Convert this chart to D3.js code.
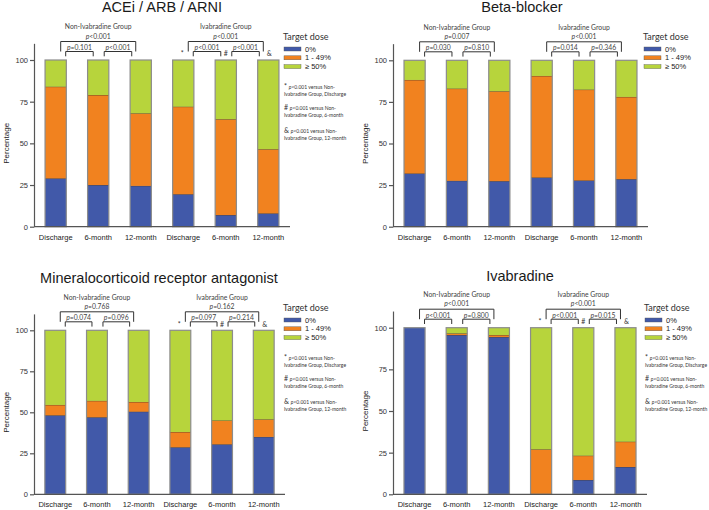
<!DOCTYPE html>
<html>
<head>
<meta charset="utf-8">
<script src="https://cdn.jsdelivr.net/npm/d3@7"></script>
<style>
body { margin: 0; background: #fff; }
svg { display: block; }
</style>
</head>
<body>
<div id="chart"></div>
<script>
// Set up an svg area
var svgWidth = 709;
var svgHeight = 510;

var svg = d3.select('#chart')
    .append('svg')
    .attr('width', svgWidth)
    .attr('height', svgHeight);

// Shared categories and legend
var categories = ['Discharge', '6-month', '12-month', 'Discharge', '6-month', '12-month'];
var groupNames = ['Non-Ivabradine Group', 'Ivabradine Group'];
var doseLevels = ['0%', '1 - 49%', '\u2265 50%'];
var doseColors = ['#4159a9', '#f1821f', '#b7d43c'];
var yTicks = [0, 25, 50, 75, 100];

// ACEi / ARB / ARNI (% of patients by target dose)
var acei_zero = [29, 25, 24.5, 19.5, 7, 8];
var acei_low = [55, 54, 43.5, 52.5, 57.5, 38.5];
var acei_high = [16, 21, 32, 28, 35.5, 53.5];
var acei_pNon = ['p<0.001', 'p=0.101', 'p<0.001'];
var acei_pIva = ['p<0.001', 'p<0.001', 'p<0.001'];

// Beta-blocker
var beta_zero = [32, 27.6, 27.4, 29.6, 27.8, 28.6];
var beta_low = [56.2, 55.4, 54, 61, 54.6, 49.4];
var beta_high = [11.8, 17, 18.6, 9.4, 17.6, 22];
var beta_pNon = ['p=0.007', 'p=0.030', 'p=0.810'];
var beta_pIva = ['p<0.001', 'p=0.014', 'p=0.346'];

// Mineralocorticoid receptor antagonist
var mra_zero = [48.2, 47, 50.4, 28.7, 30.5, 35];
var mra_low = [6.3, 10, 5.9, 9.3, 14.5, 10.7];
var mra_high = [45.5, 43, 43.7, 62, 55, 54.3];
var mra_pNon = ['p=0.768', 'p=0.074', 'p=0.096'];
var mra_pIva = ['p=0.162', 'p=0.097', 'p=0.214'];

// Ivabradine
var iva_zero = [100, 95.6, 94.4, 0, 8.6, 16.4];
var iva_low = [0, 1, 1.2, 27, 14.6, 15.2];
var iva_high = [0, 3.4, 4.4, 73, 76.8, 68.4];
var iva_pNon = ['p<0.001', 'p<0.001', 'p=0.800'];
var iva_pIva = ['p<0.001', 'p<0.001', 'p=0.015'];

// Footnote marks versus the Non-Ivabradine group
var footMarks = ['*', '#', '&'];
var footTimes = ['Discharge', '6-month', '12-month'];

var panels = [
    {title: 'ACEi / ARB / ARNI', series: [acei_zero, acei_low, acei_high], pNon: acei_pNon, pIva: acei_pIva, marks: true,
        left: 34, right: 290, bottom: 226.7, top100: 60, titleX: 162, titleY: 12, legendX: 283, legendY: 37},
    {title: 'Beta-blocker', series: [beta_zero, beta_low, beta_high], pNon: beta_pNon, pIva: beta_pIva, marks: false,
        left: 393, right: 648, bottom: 226.7, top100: 60.3, titleX: 522, titleY: 12, legendX: 643, legendY: 37},
    {title: 'Mineralocorticoid receptor antagonist', series: [mra_zero, mra_low, mra_high], pNon: mra_pNon, pIva: mra_pIva, marks: true,
        left: 34, right: 285, bottom: 494.3, top100: 330.3, titleX: 159, titleY: 282.5, legendX: 283, legendY: 308},
    {title: 'Ivabradine', series: [iva_zero, iva_low, iva_high], pNon: iva_pNon, pIva: iva_pIva, marks: true,
        left: 393, right: 647, bottom: 494.3, top100: 327.7, titleX: 520, titleY: 280.5, legendX: 644, legendY: 308}
];

var noteFont = 'Lato, "Open Sans", sans-serif';
var axisFont = '"Liberation Sans", Arial, sans-serif';

// Writes "p" in italics followed by the rest of the value
function pText(sel, value) {
    sel.append('tspan').style('font-style', 'italic').text(value.slice(0, 1));
    sel.append('tspan').text(value.slice(1));
}

function bracketPath(x1, x2, yTop, yLeg) {
    return `M${x1},${yLeg}V${yTop}H${x2}V${yLeg}`;
}

function drawPanel(cfg) {
    var g = svg.append('g');

    var yScale = d3.scaleLinear()
        .domain([0, 110])
        .range([cfg.bottom, cfg.bottom - 1.1 * (cfg.bottom - cfg.top100)]);

    var xScale = d3.scaleBand()
        .domain(d3.range(categories.length))
        .range([cfg.left, cfg.right])
        .paddingInner(0.5)
        .paddingOuter(0.26);

    var bw = xScale.bandwidth();
    var cx = (i) => xScale(i) + bw / 2;

    // Stack the three dose levels
    var rows = categories.map((c, i) => ({zero: cfg.series[0][i], low: cfg.series[1][i], high: cfg.series[2][i]}));
    var stacked = d3.stack().keys(['zero', 'low', 'high'])(rows);

    stacked.forEach((layer, li) => {
        g.append('g').selectAll('rect')
            .data(layer)
            .enter()
            .append('rect')
            .attr('x', (d, i) => xScale(i))
            .attr('y', (d) => yScale(d[1]))
            .attr('width', bw)
            .attr('height', (d) => yScale(d[0]) - yScale(d[1]))
            .attr('fill', doseColors[li]);

        // dark line on top of each segment
        if (li < 2) {
            g.append('g').selectAll('line')
                .data(layer.map((d, i) => ({d: d, i: i})).filter((o) => o.d[1] - o.d[0] > 0 && o.d[1] < 100))
                .enter()
                .append('line')
                .attr('x1', (o) => xScale(o.i))
                .attr('x2', (o) => xScale(o.i) + bw)
                .attr('y1', (o) => yScale(o.d[1]))
                .attr('y2', (o) => yScale(o.d[1]))
                .attr('stroke', '#4a3a2a')
                .attr('stroke-width', 0.8);
        }
    });

    // gray outline round each bar
    g.append('g').selectAll('rect')
        .data(categories)
        .enter()
        .append('rect')
        .attr('x', (d, i) => xScale(i))
        .attr('y', yScale(100))
        .attr('width', bw)
        .attr('height', yScale(0) - yScale(100))
        .attr('fill', 'none')
        .attr('stroke', '#8c8c8c')
        .attr('stroke-width', 1.2);

    // Axes
    var leftAxis = d3.axisLeft(yScale)
        .tickValues(yTicks)
        .tickSize(4)
        .tickSizeOuter(0);

    var yAxis = g.append('g')
        .attr('transform', `translate(${cfg.left}, 0)`)
        .call(leftAxis);
    yAxis.select('.domain').attr('stroke', '#555').attr('stroke-width', 1.2);
    yAxis.selectAll('.tick line').attr('stroke', '#555').attr('stroke-width', 1.2);
    yAxis.selectAll('.tick text')
        .attr('x', -6)
        .style('font-family', axisFont)
        .style('font-size', '7.5px')
        .attr('fill', '#333');

    g.append('line')
        .attr('x1', cfg.left)
        .attr('x2', cfg.right)
        .attr('y1', cfg.bottom)
        .attr('y2', cfg.bottom)
        .attr('stroke', '#555')
        .attr('stroke-width', 1.2);

    g.append('g').selectAll('text')
        .data(categories)
        .enter()
        .append('text')
        .attr('x', (d, i) => cx(i))
        .attr('y', cfg.bottom + 13)
        .attr('text-anchor', 'middle')
        .style('font-family', axisFont)
        .style('font-size', '7.5px')
        .attr('fill', '#222')
        .text((d) => d);

    g.append('text')
        .attr('transform', 'rotate(-90)')
        .attr('x', -(cfg.bottom + cfg.top100) / 2)
        .attr('y', cfg.left - 25)
        .attr('text-anchor', 'middle')
        .style('font-family', axisFont)
        .style('font-size', '8px')
        .attr('fill', '#222')
        .text('Percentage');

    // Title
    g.append('text')
        .attr('x', cfg.titleX)
        .attr('y', cfg.titleY)
        .attr('text-anchor', 'middle')
        .style('font-family', axisFont)
        .style('font-size', '14.5px')
        .attr('fill', '#1a1a1a')
        .text(cfg.title);

    // Group labels, p-values and brackets
    [cfg.pNon, cfg.pIva].forEach((pv, gi) => {
        var c1 = cx(gi * 3), c2 = cx(gi * 3 + 1), c3 = cx(gi * 3 + 2);
        var t = cfg.top100;

        g.append('text')
            .attr('x', c2)
            .attr('y', t - 33)
            .attr('dy', '0.35em')
            .attr('text-anchor', 'middle')
            .style('font-family', noteFont)
            .style('font-size', '6.8px')
            .attr('fill', '#444')
            .text(groupNames[gi]);

        g.append('text')
            .attr('x', (c1 + c3) / 2)
            .attr('y', t - 23.7)
            .attr('dy', '0.35em')
            .attr('text-anchor', 'middle')
            .style('font-family', noteFont)
            .style('font-size', '6.8px')
            .attr('fill', '#444')
            .call(pText, pv[0]);

        g.append('path')
            .attr('d', bracketPath(c1 + 5, c3 - 5, t - 18.5, t - 8.5))
            .attr('fill', 'none')
            .attr('stroke', '#333')
            .attr('stroke-width', 1);

        var smalls = [[c1 + 10, c2 - 5], [c2 + 6, c3 - 9]];
        smalls.forEach((s, si) => {
            g.append('path')
                .attr('d', bracketPath(s[0], s[1], t - 8.5, t - 3.7))
                .attr('fill', 'none')
                .attr('stroke', '#333')
                .attr('stroke-width', 1);

            g.append('text')
                .attr('x', (s[0] + s[1]) / 2)
                .attr('y', t - 12.5)
                .attr('dy', '0.35em')
                .attr('text-anchor', 'middle')
                .style('font-family', noteFont)
                .style('font-size', '6.8px')
                .attr('fill', '#444')
                .call(pText, pv[si + 1]);
        });

        // significance marks over the Ivabradine bars
        if (cfg.marks && gi === 1) {
            footMarks.forEach((m, mi) => {
                g.append('text')
                    .attr('x', cx(3 + mi) - 1 + mi)
                    .attr('y', t - 6)
                    .attr('dy', '0.35em')
                    .attr('text-anchor', 'middle')
                    .style('font-family', noteFont)
                    .style('font-size', '7px')
                    .attr('fill', '#333')
                    .text(m);
            });
        }
    });

    // Legend
    var legend = g.append('g')
        .attr('transform', `translate(${cfg.legendX}, ${cfg.legendY})`);

    legend.append('text')
        .attr('x', 0)
        .attr('y', 0)
        .attr('dy', '0.35em')
        .style('font-family', noteFont)
        .style('font-size', '9px')
        .attr('fill', '#333')
        .text('Target dose');

    var legendY = [12, 20.8, 29.6];
    doseLevels.forEach((lvl, li) => {
        legend.append('rect')
            .attr('x', 1)
            .attr('y', legendY[li] - 2)
            .attr('width', 17)
            .attr('height', 4)
            .attr('fill', doseColors[li])
            .attr('stroke', '#555')
            .attr('stroke-width', 0.4);

        legend.append('text')
            .attr('x', 22)
            .attr('y', legendY[li])
            .attr('dy', '0.35em')
            .style('font-family', axisFont)
            .style('font-size', '7.5px')
            .attr('fill', '#222')
            .text(lvl);
    });

    // Footnotes
    if (cfg.marks) {
        var noteY = [50, 71, 94];
        footMarks.forEach((m, mi) => {
            var line1 = legend.append('text')
                .attr('x', 1)
                .attr('y', noteY[mi])
                .attr('dy', '0.35em')
                .style('font-family', noteFont)
                .style('font-size', '5px')
                .attr('fill', '#333');
            line1.append('tspan').style('font-size', '7px').text(m + ' ');
            line1.append('tspan').style('font-style', 'italic').text('p');
            line1.append('tspan').text('<0.001 versus Non-');

            legend.append('text')
                .attr('x', 1)
                .attr('y', noteY[mi] + 7.5)
                .attr('dy', '0.35em')
                .style('font-family', noteFont)
                .style('font-size', '5px')
                .attr('fill', '#333')
                .text('Ivabradine Group, ' + footTimes[mi]);
        });
    }
}

panels.forEach((p) => drawPanel(p));
</script>
</body>
</html>
